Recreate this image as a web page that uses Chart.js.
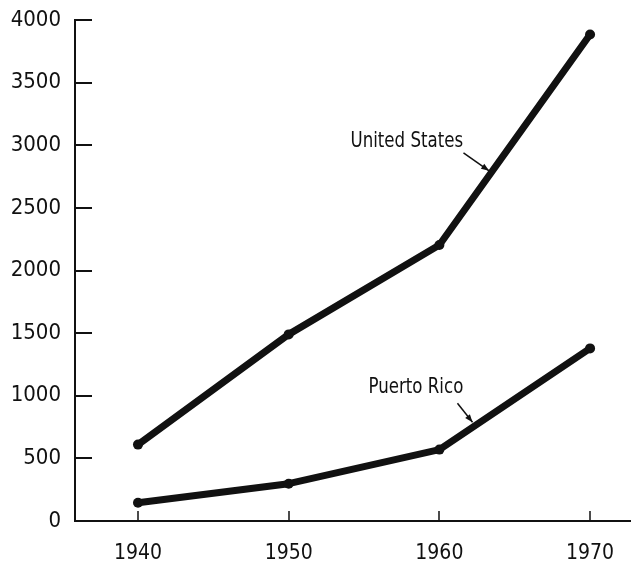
<!DOCTYPE html>
<html>
<head>
<meta charset="utf-8">
<script src="https://cdn.jsdelivr.net/npm/chart.js@4"></script>
<style>
  html, body { margin: 0; padding: 0; background: #fff; }
  #caixa { width: 635px; height: 564px; }
</style>
</head>
<body>
<div id="caixa"><canvas id="grafico"></canvas></div>
<script>
// Dados
const anos = [1940, 1950, 1960, 1970];
const estadosUnidos = [610, 1490, 2204, 3884];
const portoRico = [146, 298, 570, 1378];
const ticksY = [0, 500, 1000, 1500, 2000, 2500, 3000, 3500, 4000];

const fonte = "'Liberation Sans Narrow', 'DejaVu Sans Condensed', 'Arial Narrow', sans-serif";
const cor = '#111';

// Rótulos com seta (coordenadas em valores dos eixos)
const anotacoes = [
  { texto: 'United States', x: 1954.1, y: 3028, seta: [1961.6, 2940, 1963.3, 2796] },
  { texto: 'Puerto Rico', x: 1955.3, y: 1068, seta: [1961.2, 940, 1962.2, 788] }
];

const paraPontos = (valores) => valores.map((v, i) => ({ x: anos[i], y: v }));

const marcas = {
  id: 'marcas',
  afterDatasetsDraw(chart) {
    const { ctx, chartArea } = chart;
    const { x, y } = chart.scales;
    ctx.save();
    ctx.strokeStyle = cor;
    ctx.fillStyle = cor;

    // Tracinhos do eixo Y, para dentro
    ctx.lineWidth = 2;
    ticksY.forEach((v) => {
      const py = Math.round(y.getPixelForValue(v));
      ctx.beginPath();
      ctx.moveTo(chartArea.left, py);
      ctx.lineTo(chartArea.left + 17, py);
      ctx.stroke();
    });

    // Tracinhos do eixo X, para cima
    ctx.lineWidth = 1.5;
    anos.forEach((a) => {
      const px = Math.round(x.getPixelForValue(a));
      ctx.beginPath();
      ctx.moveTo(px, chartArea.bottom);
      ctx.lineTo(px, chartArea.bottom - 10);
      ctx.stroke();
    });

    // Anotações (letra estreita como no original)
    ctx.font = `22px ${fonte}`;
    ctx.textAlign = 'left';
    ctx.textBaseline = 'middle';
    anotacoes.forEach((a) => {
      const tx = x.getPixelForValue(a.x);
      const ty = y.getPixelForValue(a.y);
      ctx.save();
      ctx.translate(tx, ty);
      ctx.scale(0.84, 1);
      ctx.fillText(a.texto, 0, 0);
      ctx.restore();

      const x1 = x.getPixelForValue(a.seta[0]);
      const y1 = y.getPixelForValue(a.seta[1]);
      const x2 = x.getPixelForValue(a.seta[2]);
      const y2 = y.getPixelForValue(a.seta[3]);
      ctx.lineWidth = 1.5;
      ctx.beginPath();
      ctx.moveTo(x1, y1);
      ctx.lineTo(x2, y2);
      ctx.stroke();
      const ang = Math.atan2(y2 - y1, x2 - x1);
      ctx.beginPath();
      ctx.moveTo(x2, y2);
      ctx.lineTo(x2 - 8 * Math.cos(ang) + 3 * Math.sin(ang), y2 - 8 * Math.sin(ang) - 3 * Math.cos(ang));
      ctx.lineTo(x2 - 8 * Math.cos(ang) - 3 * Math.sin(ang), y2 - 8 * Math.sin(ang) + 3 * Math.cos(ang));
      ctx.closePath();
      ctx.fill();
    });
    ctx.restore();
  }
};

const estiloLinha = {
  borderColor: cor,
  backgroundColor: cor,
  borderWidth: 7,
  borderCapStyle: 'round',
  borderJoinStyle: 'round',
  pointRadius: 5,
  pointBackgroundColor: cor,
  pointBorderWidth: 0,
  tension: 0,
  clip: false
};

// Sem folga extra dos rótulos: a área do gráfico fica só com o padding do layout
const semFolga = (escala) => {
  escala.paddingTop = 0;
  escala.paddingBottom = 0;
  escala.paddingLeft = 0;
  escala.paddingRight = 0;
};

const ctx = document.getElementById('grafico').getContext('2d');
new Chart(ctx, {
  type: 'line',
  data: {
    datasets: [
      { label: 'United States', data: paraPontos(estadosUnidos), ...estiloLinha },
      { label: 'Puerto Rico', data: paraPontos(portoRico), ...estiloLinha }
    ]
  },
  options: {
    responsive: true,
    maintainAspectRatio: false,
    animation: false,
    layout: { padding: { top: 20, right: 0, left: 0, bottom: 0 } },
    plugins: { legend: { display: false }, tooltip: { enabled: false } },
    scales: {
      x: {
        type: 'linear',
        min: 1935.82,
        max: 1972.65,
        afterBuildTicks: (escala) => { escala.ticks = anos.map((a) => ({ value: a })); },
        afterFit: (escala) => { escala.height = 43; semFolga(escala); },
        grid: { display: false, drawTicks: false },
        border: { display: true, color: cor, width: 2 },
        ticks: {
          color: cor,
          font: { family: fonte, size: 21 },
          padding: 20,
          maxRotation: 0,
          callback: (v) => String(v)
        }
      },
      y: {
        type: 'linear',
        min: 0,
        max: 4000,
        afterBuildTicks: (escala) => { escala.ticks = ticksY.map((v) => ({ value: v })); },
        afterFit: (escala) => { escala.width = 75; semFolga(escala); },
        grid: { display: false, drawTicks: false },
        border: { display: true, color: cor, width: 2 },
        ticks: {
          color: cor,
          font: { family: fonte, size: 22 },
          padding: 14,
          callback: (v) => String(v)
        }
      }
    }
  },
  plugins: [marcas]
});
</script>
</body>
</html>
